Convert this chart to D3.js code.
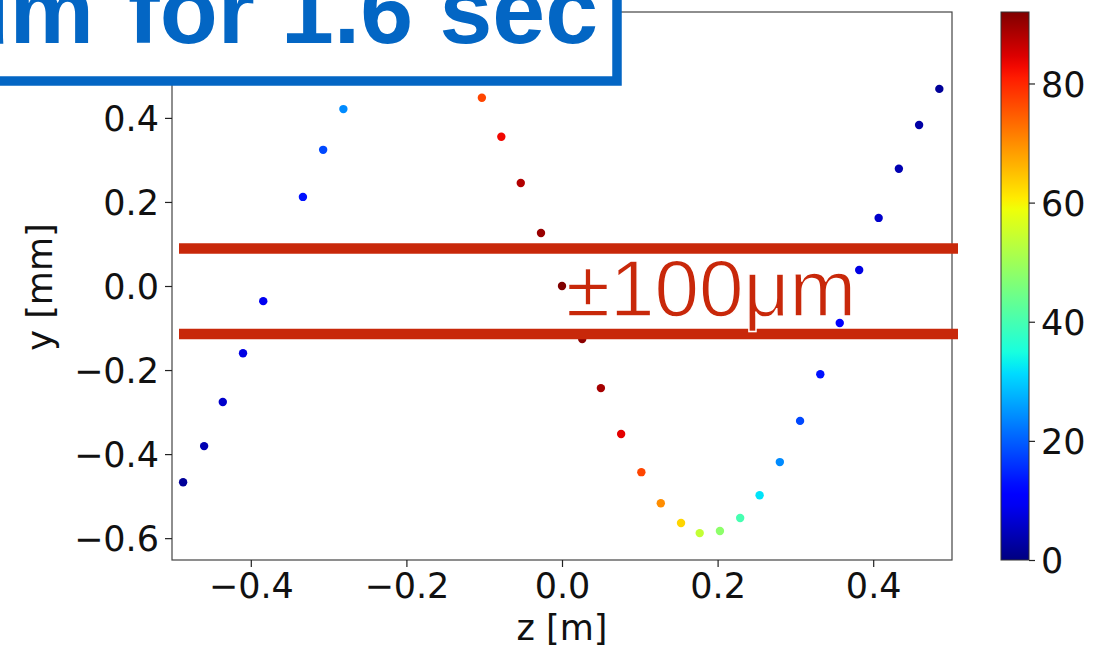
<!DOCTYPE html>
<html>
<head>
<meta charset="utf-8">
<script src="https://cdn.jsdelivr.net/npm/d3@7"></script>
<style>
  body { margin: 0; background: #fff; }
  svg { display: block; }
  .tick text { font-family: "DejaVu Sans", sans-serif; }
</style>
</head>
<body>
<div id="chart"></div>
<script>
// z [m] position, y [mm] offset, colour value (0..92)
const zVals = [-0.487, -0.460, -0.436, -0.410, -0.384, -0.333, -0.307, -0.281,
  -0.103, -0.078, -0.053, -0.027, 0.000, 0.026, 0.050, 0.076, 0.102, 0.127,
  0.153, 0.177, 0.203, 0.229, 0.254, 0.280, 0.306, 0.332, 0.357, 0.382,
  0.407, 0.433, 0.459, 0.485];
const yVals = [-0.467, -0.381, -0.276, -0.160, -0.036, 0.212, 0.324, 0.421,
  0.448, 0.355, 0.245, 0.126, 0.000, -0.126, -0.243, -0.352, -0.443, -0.517,
  -0.564, -0.588, -0.583, -0.552, -0.498, -0.419, -0.321, -0.210, -0.088, 0.038,
  0.162, 0.279, 0.383, 0.469];
const cVals = [2, 4, 6, 8, 9, 13, 18, 24,
  77, 83, 88, 90, 92, 91, 89, 84, 77, 70,
  63, 54, 48, 40, 32, 24, 18, 13, 11, 8,
  6, 4, 3, 2];
const xTicks = [-0.4, -0.2, 0.0, 0.2, 0.4];
const yTicks = [-0.6, -0.4, -0.2, 0.0, 0.2, 0.4];
const cTicks = [0, 20, 40, 60, 80];
const bandLimits = [0.089, -0.114];

const W = 1093, H = 652;
const svg = d3.select("#chart").append("svg")
  .attr("width", W).attr("height", H);

const plot = { left: 172, right: 952, top: 12, bottom: 560 };
const x = d3.scaleLinear().domain([-0.5, 0.5]).range([173, 951]);
const y = d3.scaleLinear().domain([-0.652, 0.652]).range([plot.bottom, plot.top]);

// matplotlib "jet"
const jetR = d3.scaleLinear().domain([0, 0.35, 0.66, 0.89, 1]).range([0, 0, 1, 1, 0.5]).clamp(true);
const jetG = d3.scaleLinear().domain([0, 0.125, 0.375, 0.64, 0.91, 1]).range([0, 0, 1, 1, 0, 0]).clamp(true);
const jetB = d3.scaleLinear().domain([0, 0.11, 0.34, 0.65, 1]).range([0.5, 1, 1, 0, 0]).clamp(true);
const jet = t => d3.rgb(jetR(t) * 255, jetG(t) * 255, jetB(t) * 255).toString();
const cMax = 92;
const cNorm = d3.scaleLinear().domain([0, cMax]).range([0, 1]);

// frame
svg.append("rect")
  .attr("x", plot.left).attr("y", plot.top)
  .attr("width", plot.right - plot.left).attr("height", plot.bottom - plot.top)
  .attr("fill", "none").attr("stroke", "#444").attr("stroke-width", 1.2);

// axes
const fmt = d => d3.format(".1f")(d).replace("-", "\u2212");
const xAxis = svg.append("g")
  .attr("transform", `translate(0,${plot.bottom})`)
  .call(d3.axisBottom(x).tickValues(xTicks).tickSize(7).tickPadding(6).tickFormat(fmt));
const yAxis = svg.append("g")
  .attr("transform", `translate(${plot.left},0)`)
  .call(d3.axisLeft(y).tickValues(yTicks).tickSize(7).tickPadding(6).tickFormat(fmt));
[xAxis, yAxis].forEach(g => {
  g.select(".domain").remove();
  g.selectAll(".tick line").attr("stroke", "#222").attr("stroke-width", 1.2);
  g.selectAll(".tick text").attr("font-size", 35).attr("fill", "#111");
});
yAxis.selectAll(".tick text").attr("dy", "0.36em");

svg.append("text")
  .attr("x", 562).attr("y", 640)
  .attr("text-anchor", "middle")
  .attr("font-family", "DejaVu Sans").attr("font-size", 35).attr("fill", "#111")
  .text("z [m]");
svg.append("text")
  .attr("transform", "translate(52,287) rotate(-90)")
  .attr("text-anchor", "middle")
  .attr("font-family", "DejaVu Sans").attr("font-size", 35).attr("fill", "#111")
  .text("y [mm]");

// points
svg.append("g").selectAll("circle")
  .data(zVals.map((z, i) => ({ z, y: yVals[i], c: cVals[i] })))
  .enter().append("circle")
  .attr("cx", d => x(d.z))
  .attr("cy", d => y(d.y))
  .attr("r", 4.2)
  .attr("fill", d => jet(cNorm(d.c)));

// colorbar
const cb = { x: 1001, w: 28, top: 12, bottom: 560 };
const cScale = d3.scaleLinear().domain([0, cMax]).range([cb.bottom, cb.top]);
const defs = svg.append("defs");
const grad = defs.append("linearGradient").attr("id", "jetgrad")
  .attr("x1", 0).attr("y1", 1).attr("x2", 0).attr("y2", 0);
d3.range(0, 1.0001, 0.02).forEach(t => {
  grad.append("stop").attr("offset", t).attr("stop-color", jet(t));
});
svg.append("rect")
  .attr("x", cb.x).attr("y", cb.top).attr("width", cb.w).attr("height", cb.bottom - cb.top)
  .attr("fill", "url(#jetgrad)").attr("stroke", "#333").attr("stroke-width", 1);
const cAxis = svg.append("g")
  .attr("transform", `translate(${cb.x + cb.w},0)`)
  .call(d3.axisRight(cScale).tickValues(cTicks).tickSize(6).tickPadding(6));
cAxis.select(".domain").remove();
cAxis.selectAll(".tick line").attr("stroke", "#222").attr("stroke-width", 1.2);
cAxis.selectAll(".tick text").attr("font-size", 35).attr("fill", "#111").attr("dy", "0.36em");

// ±100µm band
svg.append("g").selectAll("line")
  .data(bandLimits)
  .enter().append("line")
  .attr("x1", 179).attr("x2", 958)
  .attr("y1", d => y(d)).attr("y2", d => y(d))
  .attr("stroke", "#c8280a").attr("stroke-width", 10.5);
svg.append("text")
  .attr("x", 566).attr("y", 316)
  .attr("font-family", "Liberation Sans, Arial, sans-serif").attr("font-size", 80)
  .attr("fill", "#c8280a")
  .attr("stroke", "#fff").attr("stroke-width", 1.4)
  .text("±100μm");

// title box (cut off at the page edge)
svg.append("rect")
  .attr("x", -20).attr("y", -20).attr("width", 637).attr("height", 101)
  .attr("fill", "#fff").attr("stroke", "#0366c4").attr("stroke-width", 9.5);
const title = svg.append("text")
  .attr("y", 43)
  .attr("text-anchor", "end")
  .attr("font-family", "Liberation Sans, Arial, sans-serif")
  .attr("font-weight", "bold").attr("font-size", 95)
  .attr("fill", "#0366c4");
title.append("tspan").attr("x", 94).text("μm");
title.append("tspan").attr("x", 598).text(" for 1.6 sec");
</script>
</body>
</html>
